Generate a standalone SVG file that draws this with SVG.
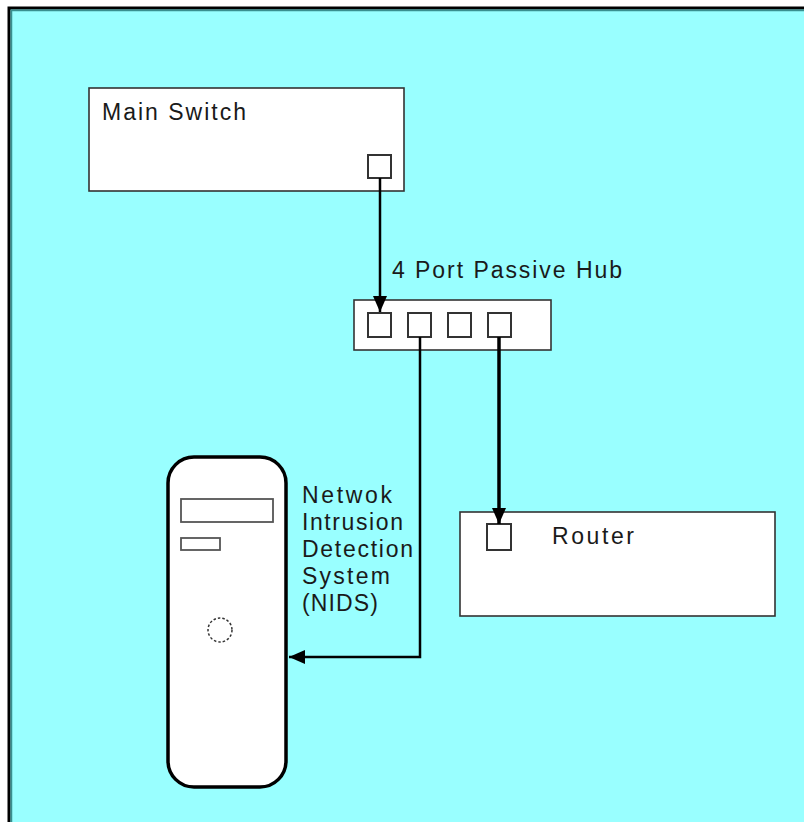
<svg xmlns="http://www.w3.org/2000/svg" width="804" height="822" viewBox="0 0 804 822">
  <style>
    .box { fill: #ffffff; stroke: #333333; stroke-width: 1.6; }
    .port { fill: #ffffff; stroke: #333333; stroke-width: 2; }
    .lbl { font-family: "Liberation Sans", Arial, sans-serif; font-size: 23px; fill: #1a1a1a; }
    .wire { fill: none; stroke: #000000; stroke-width: 2.5; }
    .wire-thick { fill: none; stroke: #000000; stroke-width: 3.5; }
  </style>
  <defs>
    <marker id="arrow" markerUnits="userSpaceOnUse" markerWidth="18" markerHeight="18" refX="16" refY="9" orient="auto">
      <path d="M0,2 L16,9 L0,16 Z" fill="#000000"/>
    </marker>
  </defs>

  <rect x="0" y="0" width="804" height="822" fill="#ffffff"/>
  <g id="frame">
    <rect x="9" y="8" width="820" height="840" fill="#99ffff" stroke="#000000" stroke-width="3"/>
    <path d="M11.5,830 V10.5 H830" fill="none" stroke="#3a8f8f" stroke-width="1.5"/>
  </g>

  <g id="main-switch">
    <rect class="box" x="89" y="88" width="315" height="103"/>
    <text class="lbl" x="102" y="120" font-size="25" textLength="144" lengthAdjust="spacing">Main Switch</text>
    <rect class="port" x="368" y="155" width="23" height="23"/>
  </g>

  <g id="hub">
    <rect class="box" x="354" y="300" width="197" height="50"/>
    <text class="lbl" x="392" y="278" textLength="230" lengthAdjust="spacing">4 Port Passive Hub</text>
    <rect class="port" x="368" y="313" width="23" height="24"/>
    <rect class="port" x="408" y="313" width="23" height="24"/>
    <rect class="port" x="448" y="313" width="23" height="24"/>
    <rect class="port" x="488" y="313" width="23" height="24"/>
  </g>

  <g id="router">
    <rect class="box" x="460" y="512" width="315" height="104"/>
    <rect class="port" x="487" y="524" width="24" height="26"/>
    <text class="lbl" x="552" y="544" font-size="25" textLength="82" lengthAdjust="spacing">Router</text>
  </g>

  <g id="nids">
    <rect x="168" y="457" width="118" height="330" rx="26" ry="26" fill="#ffffff" stroke="#000000" stroke-width="3.5"/>
    <rect x="181" y="499" width="92" height="23" fill="#ffffff" stroke="#555555" stroke-width="1.8"/>
    <rect x="181" y="538" width="39" height="12" fill="#ffffff" stroke="#555555" stroke-width="1.8"/>
    <circle cx="220" cy="630" r="12" fill="#ffffff" stroke="#333333" stroke-width="1.5" stroke-dasharray="2.5,2"/>
    <text class="lbl" x="302" y="503" textLength="90" lengthAdjust="spacing">Netwok</text>
    <text class="lbl" x="302" y="530" textLength="101" lengthAdjust="spacing">Intrusion</text>
    <text class="lbl" x="302" y="557" textLength="111" lengthAdjust="spacing">Detection</text>
    <text class="lbl" x="302" y="584" textLength="88" lengthAdjust="spacing">System</text>
    <text class="lbl" x="302" y="611" textLength="76" lengthAdjust="spacing">(NIDS)</text>
  </g>

  <g id="connectors">
    <path class="wire" d="M380,178 V312" marker-end="url(#arrow)"/>
    <path class="wire" d="M420,337 V657 H289" marker-end="url(#arrow)"/>
    <path class="wire-thick" d="M499,337 V524" marker-end="url(#arrow)"/>
  </g>
</svg>
